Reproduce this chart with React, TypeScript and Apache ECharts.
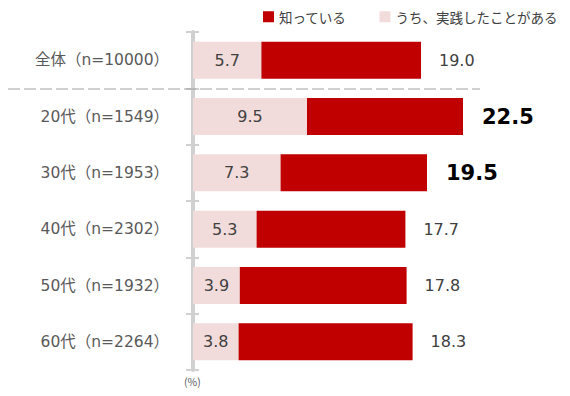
import React, { useEffect, useRef } from "react";
import * as echarts from "echarts";

const categories = ["全体（n=10000）", "20代（n=1549）", "30代（n=1953）", "40代（n=2302）", "50代（n=1932）", "60代（n=2264）"];
const knowTotal = [19.0, 22.5, 19.5, 17.7, 17.8, 18.3];
const practiced = [5.7, 9.5, 7.3, 5.3, 3.9, 3.8];
const highlighted = [false, true, true, false, false, false];
const legendNames = ["知っている", "うち、実践したことがある"];

const FONT = "'Noto Sans CJK JP', 'Noto Sans', sans-serif";
const NUMFONT = "'DejaVu Sans', 'Noto Sans CJK JP', sans-serif";

export default function App() {
  const ref = useRef<HTMLDivElement>(null);
  useEffect(() => {
    if (!ref.current) return;
    const chart = echarts.init(ref.current, undefined, { renderer: "svg" });
    const rest = knowTotal.map((t, i) => ({
      value: +(t - practiced[i]).toFixed(1),
      label: highlighted[i]
        ? { fontSize: 21, fontWeight: "bold", color: "#000000", distance: 19 }
        : undefined,
    }));
    chart.setOption({
      animation: false,
      textStyle: { fontFamily: FONT },
      legend: {
        data: legendNames,
        left: 263,
        top: 10,
        padding: 0,
        width: 305,
        itemWidth: 11,
        itemHeight: 11,
        itemGap: 33,
        icon: "rect",
        textStyle: { fontSize: 13.5, color: "#404040", fontFamily: FONT },
      },
      grid: { left: 193, right: 17, top: 32, bottom: 26, containLabel: false },
      xAxis: { type: "value", min: 0, max: 30, show: false },
      yAxis: [
        {
          type: "category",
          data: categories,
          inverse: true,
          offset: 2,
          axisLine: { show: true, lineStyle: { color: "#d0d0d0", width: 4 } },
          axisTick: { show: true, inside: true, length: 6, lineStyle: { color: "#d0d0d0", width: 2 } },
          axisLabel: { margin: 22, fontSize: 15.5, color: "#595959", fontFamily: NUMFONT },
          splitLine: { show: false },
        },
        {
          type: "category",
          data: categories,
          inverse: true,
          position: "left",
          offset: 2,
          axisLine: { show: false },
          axisTick: { show: true, inside: false, length: 5, lineStyle: { color: "#d0d0d0", width: 2 } },
          axisLabel: { show: false },
          splitLine: { show: false },
        },
      ],
      series: [
        {
          name: legendNames[1],
          type: "bar",
          stack: "a",
          barWidth: 37,
          data: practiced,
          itemStyle: { color: "#F2DCDB" },
          label: {
            show: true,
            position: "inside",
            fontSize: 16,
            color: "#404040",
            fontFamily: NUMFONT,
            formatter: (p: any) => p.value.toFixed(1),
          },
        },
        {
          name: legendNames[0],
          type: "bar",
          stack: "a",
          barWidth: 37,
          data: rest,
          itemStyle: { color: "#C00000" },
          label: {
            show: true,
            position: "right",
            distance: 18,
            fontSize: 16,
            color: "#404040",
            fontFamily: NUMFONT,
            formatter: (p: any) => knowTotal[p.dataIndex].toFixed(1),
          },
        },
      ],
      graphic: [
        {
          type: "line",
          shape: { x1: 8, y1: 89, x2: 480, y2: 89 },
          style: { stroke: "#a0a0a0", lineWidth: 1, lineDash: [12, 4] },
          z: 10,
        },
        {
          type: "text",
          x: 184,
          y: 376,
          style: { text: "(%)", fontSize: 10.5, fill: "#595959", fontFamily: FONT },
        },
      ],
    });
    return () => chart.dispose();
  }, []);
  return <div ref={ref} style={{ width: 570, height: 396, position: "absolute", left: 0, top: 0 }} />;
}
